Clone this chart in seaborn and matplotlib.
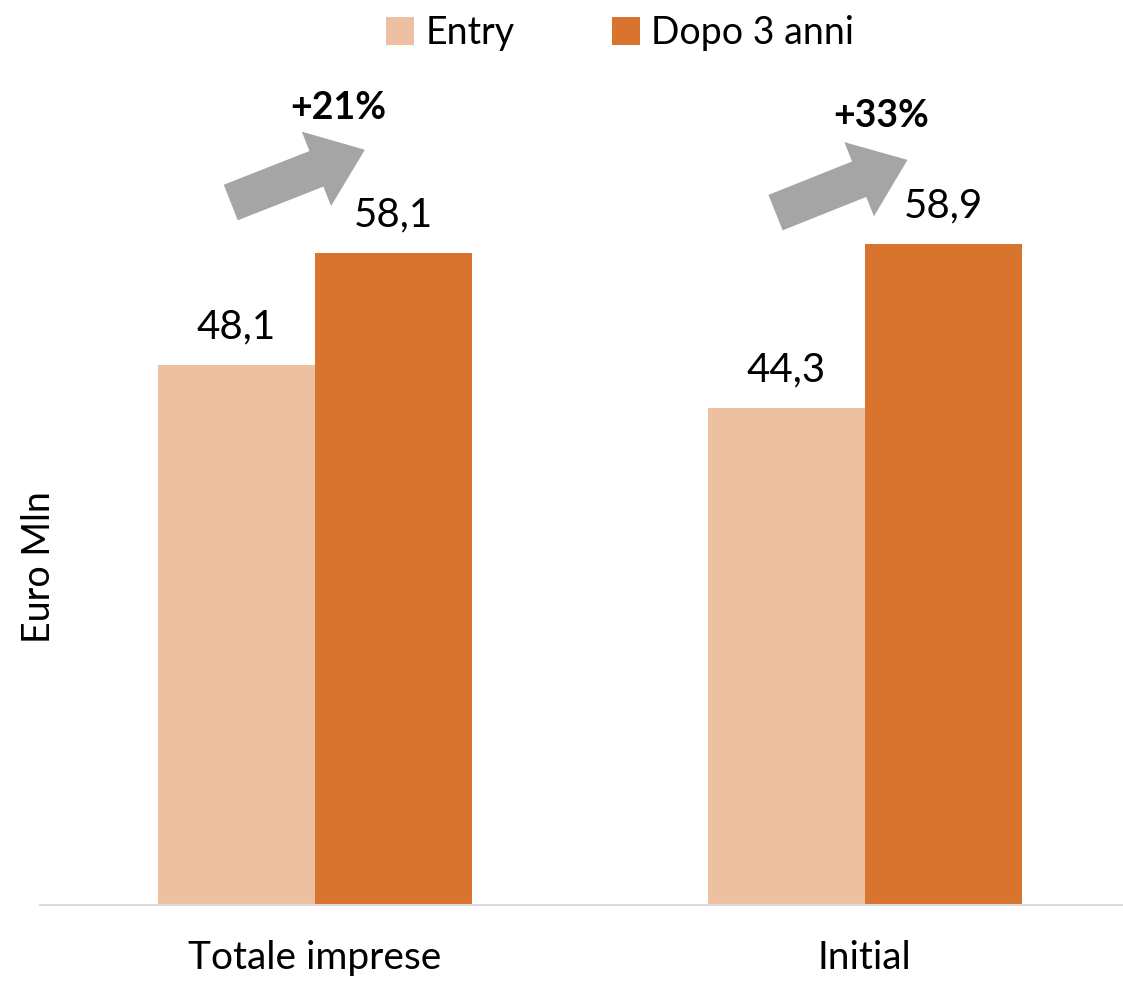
import matplotlib
matplotlib.use("Agg")
import matplotlib.pyplot as plt
import seaborn as sns
import pandas as pd
from matplotlib.patches import FancyArrowPatch

# ---------------------------------------------------------------------------
# Data
# ---------------------------------------------------------------------------
categories = ["Totale imprese", "Initial"]
series_names = ["Entry", "Dopo 3 anni"]
entry_values = [48.1, 44.3]
dopo_values = [58.1, 58.9]
growth_labels = ["+21%", "+33%"]

colors = {"Entry": "#EDC0A2", "Dopo 3 anni": "#D9742F"}

# arrow placement (x offset from group centre, y in data units)
arrow_tail = [(-0.153, 62.6), (-0.162, 61.7)]
arrow_tip = [(0.091, 67.3), (0.078, 66.4)]
growth_pos = [(0.042, 71.0), (0.031, 70.3)]

df = pd.DataFrame({
    "categoria": categories * 2,
    "serie": [series_names[0]] * 2 + [series_names[1]] * 2,
    "valore": entry_values + dopo_values,
})

sns.set_theme(style="white")
plt.rcParams["font.family"] = ["Lato", "DejaVu Sans"]
plt.rcParams["text.color"] = "black"
plt.rcParams["xtick.color"] = "black"
plt.rcParams["axes.labelcolor"] = "black"

fig = plt.figure(figsize=(11.23, 9.82), dpi=100)
ax = fig.add_axes([40 / 1123, 1 - 905 / 982, 1 - 40 / 1123, (905 - 60) / 982])

sns.barplot(data=df, x="categoria", y="valore", hue="serie",
            palette=colors, width=0.571, saturation=1, linewidth=0,
            ax=ax, legend=True)

for c in ax.containers:
    ax.bar_label(c, labels=[f"{v:.1f}".replace(".", ",") for v in c.datavalues],
                 padding=14, fontsize=29, color="black")

# grey growth arrows + percentage above each group
for i, lab in enumerate(growth_labels):
    (tx, ty), (hx, hy) = arrow_tail[i], arrow_tip[i]
    arr = FancyArrowPatch((i + tx, ty), (i + hx, hy),
                          arrowstyle="simple,head_width=2.3,head_length=1.5,tail_width=1.1",
                          mutation_scale=25, color="#A5A5A5", lw=0,
                          shrinkA=0, shrinkB=0, zorder=3)
    ax.add_patch(arr)
    gx, gy = growth_pos[i]
    ax.text(i + gx, gy, lab, ha="center", va="center",
            fontsize=27, fontweight="bold", color="black")

ax.set_xlim(-0.5, 1.47)
ax.set_ylim(0, 75.3)
ax.set_yticks([])
ax.set_xlabel("")
ax.set_ylabel("Euro Mln", fontsize=27)
ax.yaxis.set_label_coords(0.016, 0.4)
ax.tick_params(axis="x", length=0, pad=25, labelsize=28)

for s in ["top", "right", "left"]:
    ax.spines[s].set_visible(False)
ax.spines["bottom"].set_color("#D9D9D9")
ax.spines["bottom"].set_linewidth(1.5)

ax.legend(loc="center", bbox_to_anchor=(620 / 1123, 1 - 33 / 982),
          bbox_transform=fig.transFigure, ncol=2, frameon=False,
          fontsize=27, handlelength=0.75, handleheight=0.75,
          handletextpad=0.3, columnspacing=2.6)

fig.savefig("out.png", dpi=100)
